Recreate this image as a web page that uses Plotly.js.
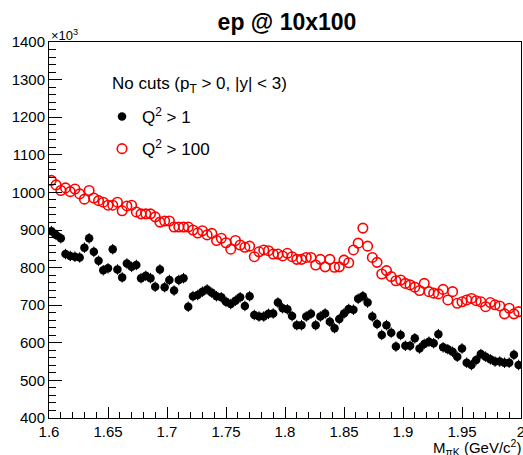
<!DOCTYPE html>
<html>
<head>
<meta charset="utf-8">
<script src="https://cdn.plot.ly/plotly-3.0.1.min.js"></script>
<style>html,body{margin:0;padding:0;background:#fff;}#chart{width:523px;height:455px;}</style>
</head>
<body>
<div id="chart"></div>
<script>
// Histogram binning (M_piK, GeV/c^2): 100 bins from 1.6 to 2.0
const binLow = 1.6;
const binWidth = 0.004;
const nBins = 100;

// Counts (x10^3) for Q^2 > 1
const q2gt1 = [
  897, 887, 878, 836, 831, 829, 827, 853, 878, 842,
  818, 793, 798, 849, 795, 774, 811, 802, 807, 772,
  778, 772, 749, 795, 748, 767, 739, 767, 772, 696,
  724, 727, 736, 742, 733, 724, 721, 709, 703, 712,
  721, 698, 724, 674, 670, 670, 677, 678, 707, 692,
  689, 671, 647, 647, 670, 677, 647, 670, 678, 656,
  639, 663, 678, 690, 688, 717, 724, 707, 670, 650,
  621, 647, 627, 590, 621, 592, 592, 612, 585, 597,
  603, 599, 623, 588, 583, 576, 563, 585, 547, 541,
  554, 570, 563, 556, 550, 550, 547, 547, 568, 541
];

// Counts (x10^3) for Q^2 > 100
const q2gt100 = [
  1032, 1020, 1005, 1012, 1002, 1009, 996, 982, 1005, 985,
  978, 974, 966, 966, 974, 951, 964, 966, 948, 943,
  943, 943, 935, 921, 924, 924, 908, 908, 908, 908,
  900, 892, 898, 887, 891, 872, 878, 866, 849, 872,
  860, 854, 857, 829, 842, 847, 845, 836, 836, 831,
  838, 829, 822, 822, 827, 827, 807, 822, 802, 822,
  801, 802, 820, 813, 847, 865, 905, 857, 827, 814,
  783, 792, 776, 765, 767, 758, 754, 748, 739, 758,
  736, 732, 730, 742, 714, 736, 705, 709, 714, 718,
  712, 709, 696, 707, 701, 698, 677, 692, 677, 683
];

const seriesNames = ['Q<sup>2</sup> &gt; 1', 'Q<sup>2</sup> &gt; 100'];
const legendHeader = 'No cuts (p<sub>T</sub> &gt; 0, |y| &lt; 3)';
const xTickVals = [1.6, 1.65, 1.7, 1.75, 1.8, 1.85, 1.9, 1.95, 2.0];
const xTickText = ['1.6', '1.65', '1.7', '1.75', '1.8', '1.85', '1.9', '1.95', '2'];
const yTickVals = [400, 500, 600, 700, 800, 900, 1000, 1100, 1200, 1300, 1400];

const binCenters = [];
for (let i = 0; i < nBins; i++) binCenters.push(binLow + (i + 0.5) * binWidth);

const FONT = 'Liberation Sans, Arial, Helvetica, sans-serif';

const traces = [
  {
    x: binCenters, y: q2gt1, type: 'scatter', mode: 'markers',
    name: seriesNames[0], legendgroup: 'a',
    marker: {symbol: 'circle', size: 8.5, color: '#000000'},
    error_y: {type: 'constant', value: 14, thickness: 1, width: 0, color: '#000000'},
    cliponaxis: true
  },
  {
    x: binCenters, y: q2gt100, type: 'scatter', mode: 'markers',
    name: seriesNames[1], legendgroup: 'b',
    marker: {symbol: 'circle-open', size: 9.5, color: '#ff0000', line: {width: 1.6, color: '#ff0000'}},
    cliponaxis: true
  }
];

const axisCommon = {
  showgrid: false, zeroline: false, showline: true, linecolor: '#000', linewidth: 1,
  mirror: true, ticks: 'inside', tickcolor: '#000', tickwidth: 1,
  tickfont: {family: FONT, size: 15, color: '#000'}
};

const layout = {
  width: 523, height: 455,
  margin: {l: 49, r: 2, t: 42, b: 37},
  paper_bgcolor: '#fff', plot_bgcolor: '#fff',
  font: {family: FONT, color: '#000'},
  title: {
    text: '<b>ep @ 10x100</b>',
    font: {family: FONT, size: 23, color: '#000'},
    x: 287 / 523, xref: 'container', xanchor: 'center',
    y: 1 - 22 / 455, yref: 'container', yanchor: 'middle'
  },
  xaxis: Object.assign({}, axisCommon, {
    range: [1.6, 2.0], tickvals: xTickVals, ticktext: xTickText, ticklen: 11,
    ticklabeloverflow: 'allow',
    minor: {dtick: 0.01, tick0: 1.6, ticks: 'inside', ticklen: 6, tickcolor: '#000', tickwidth: 1}
  }),
  yaxis: Object.assign({}, axisCommon, {
    range: [400, 1400], tickvals: yTickVals, ticklen: 13,
    minor: {dtick: 20, tick0: 400, ticks: 'inside', ticklen: 7, tickcolor: '#000', tickwidth: 1}
  }),
  showlegend: true,
  legend: {
    x: (108 - 49) / 472, y: (418 - 99) / 376, xanchor: 'left', yanchor: 'top',
    bgcolor: 'rgba(0,0,0,0)', borderwidth: 0,
    font: {family: FONT, size: 17, color: '#000'},
    traceorder: 'grouped', tracegroupgap: 7, indentation: -6
  },
  annotations: [
    {text: legendHeader, xref: 'paper', yref: 'paper', x: (110 - 49) / 472, y: (418 - 85) / 376,
     xanchor: 'left', yanchor: 'middle', showarrow: false, font: {family: FONT, size: 17, color: '#000'}},
    {text: '×10<sup>3</sup>', xref: 'paper', yref: 'paper', x: 0, y: 1, xanchor: 'left', yanchor: 'bottom',
     showarrow: false, font: {family: FONT, size: 13, color: '#000'}, yshift: -3},
    {text: 'M<sub>πK</sub> (GeV/c<sup>2</sup>)', xref: 'paper', yref: 'paper', x: 1, y: 0, xanchor: 'right', yanchor: 'top',
     showarrow: false, font: {family: FONT, size: 15, color: '#000'}, yshift: -17, xshift: 2}
  ]
};

Plotly.newPlot('chart', traces, layout, {displayModeBar: false, staticPlot: true});
</script>
</body>
</html>
